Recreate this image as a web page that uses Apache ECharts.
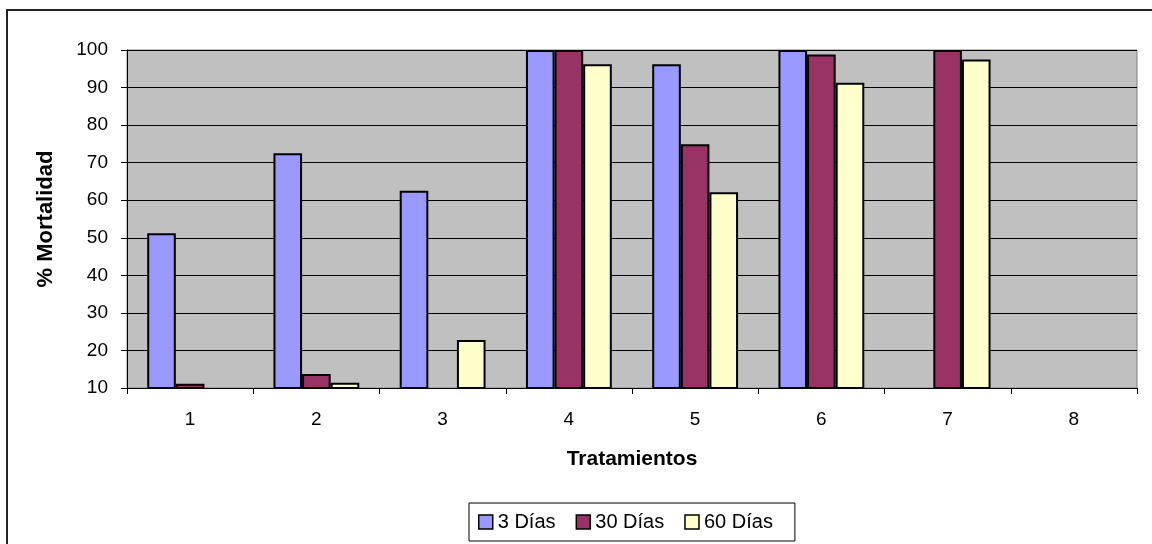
<!DOCTYPE html>
<html>
<head>
<meta charset="utf-8">
<script src="https://cdn.jsdelivr.net/npm/echarts@6/dist/echarts.min.js"></script>
<style>
  html, body { margin: 0; padding: 0; background: #fff; }
  #chart { width: 1152px; height: 544px; }
</style>
</head>
<body>
<div id="chart"></div>
<script>
// Treatments on the x axis
const categories = ['1', '2', '3', '4', '5', '6', '7', '8'];
// Mortality (%) per treatment after each exposure time
const dias3 = [51.2, 72.5, 62.5, 100, 96.2, 100, null, null];
const dias30 = [11.1, 13.7, null, 100, 74.9, 98.8, 100, null];
const dias60 = [null, 11.4, 22.8, 96.2, 62.1, 91.3, 97.5, null];
const seriesNames = ['3 Días', '30 Días', '60 Días'];
const yMin = 10, yMax = 100, yStep = 10;

const FONT = '"Liberation Sans", Arial, sans-serif';
const colors = ['#9999FF', '#993366', '#FFFFCC'];

const chart = echarts.init(document.getElementById('chart'), null, { renderer: 'canvas' });

function barSeries(name, data, color) {
  return {
    name: name,
    type: 'bar',
    data: data,
    barGap: '0%',
    barCategoryGap: '32%',
    clip: true,
    itemStyle: { color: color, borderColor: '#000', borderWidth: 2 },
    emphasis: { disabled: true }
  };
}

chart.setOption({
  animation: false,
  backgroundColor: '#fff',
  textStyle: { fontFamily: FONT, color: '#000' },
  graphic: [{
    type: 'rect',
    shape: { x: 7, y: 10, width: 1200, height: 600 },
    style: { fill: 'none', stroke: '#222', lineWidth: 2 },
    silent: true,
    z: -1
  }],
  grid: {
    left: 127, top: 50, right: 15, bottom: 156,
    show: true,
    backgroundColor: '#C0C0C0',
    borderColor: '#808080',
    borderWidth: 1
  },
  legend: {
    data: seriesNames,
    left: 469, top: 503,
    orient: 'horizontal',
    itemWidth: 14, itemHeight: 14,
    itemGap: 20,
    padding: [9, 22, 9, 9],
    borderColor: '#000', borderWidth: 1,
    icon: 'rect',
    itemStyle: { borderColor: '#000', borderWidth: 1.5 },
    textStyle: { fontFamily: FONT, fontSize: 20, color: '#000' },
    selectedMode: false
  },
  xAxis: {
    type: 'category',
    data: categories,
    name: 'Tratamientos',
    nameLocation: 'middle',
    nameGap: 61,
    nameTextStyle: { fontFamily: FONT, fontSize: 21, fontWeight: 'bold', color: '#000' },
    axisLine: { lineStyle: { color: '#000', width: 1 } },
    axisTick: { show: true, length: 6, lineStyle: { color: '#000' } },
    axisLabel: { fontFamily: FONT, fontSize: 19, color: '#000', margin: 22 },
    splitLine: { show: false }
  },
  yAxis: {
    type: 'value',
    min: yMin, max: yMax, interval: yStep,
    name: '% Mortalidad',
    nameLocation: 'middle',
    nameGap: 70,
    nameRotate: 90,
    nameTextStyle: { fontFamily: FONT, fontSize: 22, fontWeight: 'bold', color: '#000' },
    axisLine: { show: true, lineStyle: { color: '#000', width: 1 } },
    axisTick: { show: true, length: 6, lineStyle: { color: '#000' } },
    axisLabel: { fontFamily: FONT, fontSize: 19, color: '#000', margin: 19 },
    splitLine: { show: true, lineStyle: { color: '#000', width: 1 } }
  },
  series: [
    barSeries(seriesNames[0], dias3, colors[0]),
    barSeries(seriesNames[1], dias30, colors[1]),
    barSeries(seriesNames[2], dias60, colors[2])
  ]
});
</script>
</body>
</html>
